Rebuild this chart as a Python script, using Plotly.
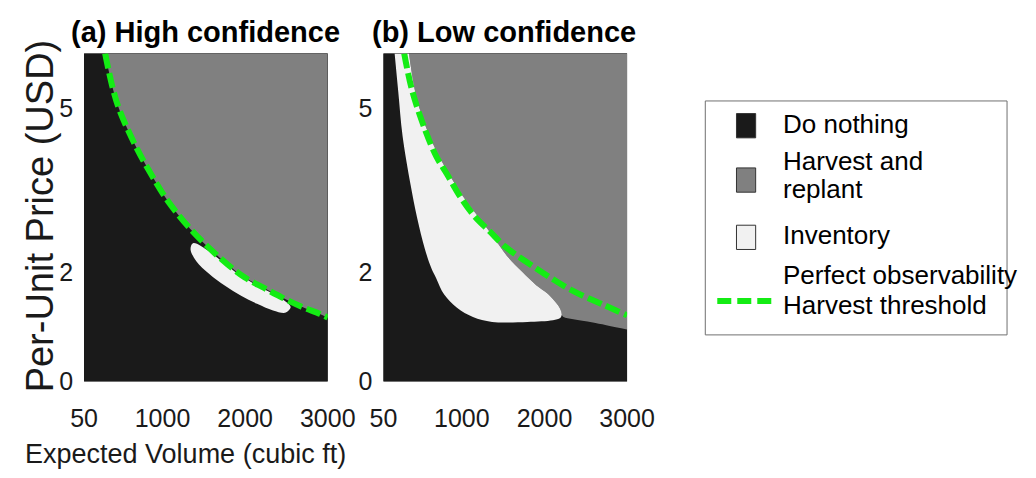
import plotly.graph_objects as go

# ---------------- data ----------------
vol_range = [50, 3000]
price_range = [0, 6]
x_ticks = [50, 1000, 2000, 3000]
x_ticklabels = ["50", "1000", "2000", "3000"]
y_ticks = [0, 2, 5]
y_ticklabels = ["0", "2", "5"]

# Panel (a) high confidence
thr_a_vol = [305, 400, 480, 673, 866, 1060, 1331, 1544, 1788, 1997, 2229, 2454, 2678, 2899, 3000]
thr_a_price = [6.0, 5.35, 4.96, 4.31, 3.78, 3.31, 2.80, 2.47, 2.14, 1.90, 1.71, 1.53, 1.37, 1.24, 1.17]
inv_a_vol = [1370, 1563, 1757, 1951, 2144, 2338, 2493, 2551, 2493, 2338, 2144, 1951, 1757, 1563, 1409, 1339, 1370]
inv_a_price = [2.53, 2.38, 2.15, 1.93, 1.76, 1.60, 1.46, 1.36, 1.26, 1.30, 1.42, 1.57, 1.75, 1.97, 2.20, 2.42, 2.53]

# Panel (b) low confidence
thr_b_vol = [302, 398, 553, 689, 817, 980, 1154, 1347, 1521, 1928, 2315, 2702, 3000]
thr_b_price = [6.0, 5.32, 4.61, 4.12, 3.80, 3.38, 3.02, 2.73, 2.47, 2.04, 1.68, 1.41, 1.21]
inv_b_upper_vol = [360, 450, 600, 760, 1017, 1231, 1385, 1560, 1733, 1900, 2043, 2150, 2195, 2210]
inv_b_upper_price = [6.0, 5.2, 4.52, 4.02, 3.38, 2.95, 2.64, 2.27, 2.0, 1.76, 1.60, 1.42, 1.31, 1.22]
inv_b_lower_vol = [186, 230, 282, 379, 456, 553, 631, 689, 786, 941, 1134, 1366, 1792, 2102, 2190, 2210]
inv_b_lower_price = [6.0, 5.3, 4.49, 3.60, 3.01, 2.42, 2.07, 1.89, 1.59, 1.35, 1.18, 1.09, 1.09, 1.12, 1.16, 1.22]
gray_b_lower_vol = [2230, 2350, 2586, 3000]
gray_b_lower_price = [1.18, 1.14, 1.08, 0.95]

region_names = ["Do nothing", "Harvest and", "replant", "Inventory",
                "Perfect observability", "Harvest threshold"]
titles = ["(a) High confidence", "(b) Low confidence"]
x_title = "Expected Volume (cubic ft)"
y_title = "Per-Unit Price (USD)"

# ---------------- style ----------------
BLACK = "#1a1a1a"
GRAY = "#808080"
WHITE = "#f1f1f1"
GREEN = "#14ec14"
SANS = "Liberation Sans, Arial, sans-serif"
W, H = 1036, 478


def px(x):
    return x / W


def py(y):
    return 1 - y / H


fig = go.Figure()


def add_panel(xa, ya, gray_v, gray_p):
    # Do nothing (whole plane)
    fig.add_trace(go.Scatter(x=[vol_range[0], vol_range[1], vol_range[1], vol_range[0]],
                             y=[price_range[0], price_range[0], price_range[1], price_range[1]],
                             fill="toself", fillcolor=BLACK, mode="lines", line=dict(width=0),
                             hoverinfo="skip", showlegend=False, xaxis=xa, yaxis=ya))
    # top edge of the harvest region
    fig.add_trace(go.Scatter(x=[gray_v[0], vol_range[1]], y=[price_range[1], price_range[1]],
                             mode="lines", line=dict(width=0), hoverinfo="skip",
                             showlegend=False, xaxis=xa, yaxis=ya))
    fig.add_trace(go.Scatter(x=gray_v, y=gray_p, fill="tonexty", fillcolor=GRAY,
                             mode="lines", line=dict(width=0, shape="spline"),
                             hoverinfo="skip", showlegend=False, xaxis=xa, yaxis=ya))


# panel a
add_panel("x", "y", thr_a_vol, thr_a_price)
fig.add_trace(go.Scatter(x=inv_a_vol, y=inv_a_price, fill="toself", fillcolor=WHITE,
                         mode="lines", line=dict(width=0, shape="spline"),
                         hoverinfo="skip", showlegend=False, xaxis="x", yaxis="y"))
fig.add_trace(go.Scatter(x=thr_a_vol, y=thr_a_price, mode="lines",
                         line=dict(color=GREEN, width=6, dash="15px,5px", shape="spline"),
                         hoverinfo="skip", showlegend=False, xaxis="x", yaxis="y"))

# panel b
gray_b_vol = inv_b_upper_vol + gray_b_lower_vol
gray_b_price = inv_b_upper_price + gray_b_lower_price
add_panel("x2", "y2", gray_b_vol, gray_b_price)
fig.add_trace(go.Scatter(x=inv_b_upper_vol, y=inv_b_upper_price, mode="lines",
                         line=dict(width=0, shape="spline"), hoverinfo="skip",
                         showlegend=False, xaxis="x2", yaxis="y2"))
fig.add_trace(go.Scatter(x=inv_b_lower_vol, y=inv_b_lower_price, fill="tonexty",
                         fillcolor=WHITE, mode="lines", line=dict(width=0, shape="spline"),
                         hoverinfo="skip", showlegend=False, xaxis="x2", yaxis="y2"))
fig.add_trace(go.Scatter(x=thr_b_vol, y=thr_b_price, mode="lines",
                         line=dict(color=GREEN, width=6, dash="15px,5px", shape="spline"),
                         hoverinfo="skip", showlegend=False, xaxis="x2", yaxis="y2"))

tickfont = dict(family=SANS, size=25, color="#1a1a1a")
xcommon = dict(range=vol_range, tickvals=x_ticks, ticktext=x_ticklabels, showgrid=False,
               zeroline=False, showline=False, ticks="", tickfont=tickfont, fixedrange=True,
               ticklabelstandoff=20)
ycommon = dict(range=price_range, tickvals=y_ticks, ticktext=y_ticklabels, showgrid=False,
               zeroline=False, showline=False, ticks="", tickfont=tickfont, fixedrange=True,
               ticklabelstandoff=10)

y_dom = [py(393), py(55)]
fig.update_layout(
    width=W, height=H, autosize=False,
    margin=dict(l=0, r=0, t=0, b=0),
    paper_bgcolor="white", plot_bgcolor=BLACK,
    showlegend=False,
    xaxis=dict(domain=[px(73), px(327)], anchor="y", **xcommon),
    yaxis=dict(domain=y_dom, anchor="x", **ycommon),
    xaxis2=dict(domain=[px(385), px(639)], anchor="y2", **xcommon),
    yaxis2=dict(domain=y_dom, anchor="x2", **ycommon),
)

ann = []
for t, cx in zip(titles, [200, 511]):
    ann.append(dict(text=t, x=px(cx), y=py(33), xref="paper", yref="paper",
                    xanchor="center", yanchor="middle", showarrow=False,
                    font=dict(family=SANS, size=29, color="black", weight="bold")))
ann.append(dict(text=x_title, x=px(179), y=py(468), xref="paper", yref="paper",
                xanchor="center", yanchor="middle", showarrow=False,
                font=dict(family=SANS, size=27, color="#1a1a1a")))
ann.append(dict(text=y_title, x=px(28), y=py(222), xref="paper", yref="paper",
                xanchor="center", yanchor="middle", showarrow=False, textangle=-90,
                font=dict(family=SANS, size=38, color="#1a1a1a")))

legend_y = [128, 166, 195, 242, 283, 314]
for name, yy in zip(region_names, legend_y):
    ann.append(dict(text=name, x=px(799), y=py(yy), xref="paper", yref="paper",
                    xanchor="left", yanchor="middle", showarrow=False,
                    font=dict(family=SANS, size=26, color="black")))
fig.update_layout(annotations=ann)

shapes = [dict(type="rect", xref="paper", yref="paper", x0=px(720.5), x1=px(1035),
               y0=py(345), y1=py(104), line=dict(color="#707070", width=1))]
for col, (y0, y1) in zip([BLACK, GRAY, WHITE], [(117, 142), (173, 198), (232, 257)]):
    shapes.append(dict(type="rect", xref="paper", yref="paper", x0=px(753), x1=px(773),
                       y0=py(y1), y1=py(y0), fillcolor=col,
                       line=dict(color="#333333", width=1)))
shapes.append(dict(type="line", xref="paper", yref="paper", x0=px(733), x1=px(793),
                   y0=py(310), y1=py(310), line=dict(color=GREEN, width=6, dash="14px,6px")))
fig.update_layout(shapes=shapes)

fig.write_html("out.html")
